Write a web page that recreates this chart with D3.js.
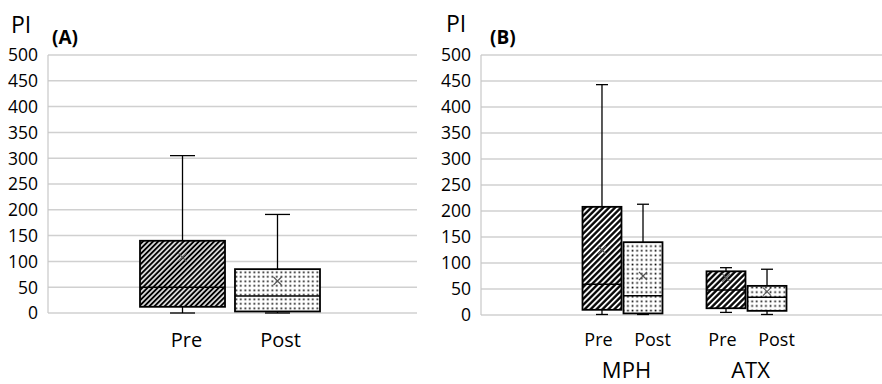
<!DOCTYPE html>
<html>
<head>
<meta charset="utf-8">
<script src="https://cdn.jsdelivr.net/npm/d3@7"></script>
<style>
  body { margin: 0; background: #fff; }
  text { font-family: "Open Sans", "Noto Sans", sans-serif; fill: #000; }
</style>
</head>
<body>
<div id="chart"></div>
<script>
// Panel A: all patients, Pre vs Post
const phases = ['Pre', 'Post'];
const aMin    = [0, 0];
const aQ1     = [12, 3];
const aMedian = [50, 33];
const aQ3     = [140, 85];
const aMax    = [305, 191];
const aMean   = [108, 62];

// Panel B: by drug, [Pre, Post] per group
const groups  = ['MPH', 'ATX'];
const bMin    = [[1, 1], [5, 1]];
const bQ1     = [[10, 3], [13, 8]];
const bMedian = [[59, 37], [48, 34]];
const bQ3     = [[208, 140], [84, 56]];
const bMax    = [[443, 213], [91, 88]];
const bMean   = [[125, 75], [72, 45]];

const yTicks = [0, 50, 100, 150, 200, 250, 300, 350, 400, 450, 500];

const width = 882, height = 384;
const svg = d3.select('#chart').append('svg')
  .attr('width', width)
  .attr('height', height);

// Fill patterns
const defs = svg.append('defs');
function hatch(id, size, sw) {
  const p = defs.append('pattern')
    .attr('id', id)
    .attr('patternUnits', 'userSpaceOnUse')
    .attr('width', size).attr('height', size)
    .attr('patternTransform', 'rotate(45)');
  p.append('rect').attr('width', size).attr('height', size).attr('fill', '#fff');
  p.append('line')
    .attr('x1', size / 2).attr('x2', size / 2)
    .attr('y1', 0).attr('y2', size)
    .attr('stroke', '#000').attr('stroke-width', sw);
}
function dots(id, size) {
  const p = defs.append('pattern')
    .attr('id', id)
    .attr('patternUnits', 'userSpaceOnUse')
    .attr('width', size).attr('height', size);
  p.append('rect').attr('width', size).attr('height', size).attr('fill', '#fff');
  p.append('rect')
    .attr('x', size / 2 - 0.8).attr('y', size / 2 - 0.8)
    .attr('width', 1.7).attr('height', 1.7)
    .attr('fill', '#111');
}
hatch('hatchA', 3.6, 2.1);
hatch('hatchB', 4.2, 2.3);
dots('dotsA', 4.5);
dots('dotsB', 4.6);

// Draws grid + y labels for one panel
function drawFrame(y, x0, x1, labelRight, pi, letter) {
  const g = svg.append('g');
  g.selectAll('line.grid')
    .data(yTicks)
    .join('line')
      .attr('class', 'grid')
      .attr('x1', x0).attr('x2', x1)
      .attr('y1', d => y(d)).attr('y2', d => y(d))
      .attr('stroke', '#d0d0d0')
      .attr('stroke-width', 1.5);
  g.append('line')
    .attr('x1', x0).attr('x2', x0)
    .attr('y1', y(500)).attr('y2', y(0))
    .attr('stroke', '#c8c8c8').attr('stroke-width', 1.2);
  g.selectAll('text.tick')
    .data(yTicks)
    .join('text')
      .attr('class', 'tick')
      .attr('x', labelRight)
      .attr('y', d => y(d))
      .attr('dy', '0.36em')
      .attr('text-anchor', 'end')
      .style('font-size', '17.5px')
      .text(d => d);
  g.append('text')
    .attr('x', pi.x).attr('y', pi.y)
    .style('font-size', '23px')
    .text('PI');
  g.append('text')
    .attr('x', letter.x).attr('y', letter.y)
    .style('font-size', '19px')
    .style('font-weight', 'bold')
    .text(letter.t);
}

// One box-and-whisker
function drawBox(g, y, cx, bw, capW, s, pattern) {
  g.append('line')
    .attr('x1', cx).attr('x2', cx)
    .attr('y1', y(s.max)).attr('y2', y(s.q3))
    .attr('stroke', '#000').attr('stroke-width', 1.3);
  g.append('line')
    .attr('x1', cx).attr('x2', cx)
    .attr('y1', y(s.q1)).attr('y2', y(s.min))
    .attr('stroke', '#000').attr('stroke-width', 1.3);
  [s.max, s.min].forEach(v => {
    g.append('line')
      .attr('x1', cx - capW / 2).attr('x2', cx + capW / 2)
      .attr('y1', y(v)).attr('y2', y(v))
      .attr('stroke', '#000').attr('stroke-width', 1.3);
  });
  g.append('rect')
    .attr('x', cx - bw / 2)
    .attr('y', y(s.q3))
    .attr('width', bw)
    .attr('height', y(s.q1) - y(s.q3))
    .attr('fill', `url(#${pattern})`)
    .attr('stroke', '#000')
    .attr('stroke-width', 1.8);
  g.append('line')
    .attr('x1', cx - bw / 2).attr('x2', cx + bw / 2)
    .attr('y1', y(s.median)).attr('y2', y(s.median))
    .attr('stroke', '#000').attr('stroke-width', 1.5);
  const m = 4, my = y(s.mean);
  g.append('path')
    .attr('d', `M${cx - m},${my - m}L${cx + m},${my + m}M${cx - m},${my + m}L${cx + m},${my - m}`)
    .attr('stroke', '#555').attr('stroke-width', 1.1);
}

// ---- Panel A ----
const yA = d3.scaleLinear().domain([0, 500]).range([313, 55]);
drawFrame(yA, 48, 417, 38, {x: 11, y: 33}, {x: 52, y: 44, t: '(A)'});
const xA = d3.scaleBand().domain(phases).range([140, 320]).paddingInner(0.105);
const gA = svg.append('g');
phases.forEach((p, i) => {
  drawBox(gA, yA, xA(p) + xA.bandwidth() / 2, xA.bandwidth(), 25,
    {min: aMin[i], q1: aQ1[i], median: aMedian[i], q3: aQ3[i], max: aMax[i], mean: aMean[i]},
    i === 0 ? 'hatchA' : 'dotsA');
});
gA.selectAll('text.cat')
  .data(phases)
  .join('text')
    .attr('class', 'cat')
    .attr('x', (d, i) => xA(d) + xA.bandwidth() / 2 + (i === 0 ? 4 : 3))
    .attr('y', 347)
    .attr('text-anchor', 'middle')
    .style('font-size', '20px')
    .text(d => d);

// ---- Panel B ----
const yB = d3.scaleLinear().domain([0, 500]).range([315, 55]);
drawFrame(yB, 481, 890, 471, {x: 446, y: 32}, {x: 490, y: 44, t: '(B)'});
const xB = d3.scaleBand().domain(groups).range([582.5, 786.5]).paddingInner(0.355);
const xSub = d3.scaleBand().domain(phases).range([0, xB.bandwidth()]).paddingInner(0.05);
const gB = svg.append('g');
groups.forEach((grp, gi) => {
  phases.forEach((p, pi) => {
    drawBox(gB, yB, xB(grp) + xSub(p) + xSub.bandwidth() / 2, xSub.bandwidth(), 12,
      {min: bMin[gi][pi], q1: bQ1[gi][pi], median: bMedian[gi][pi], q3: bQ3[gi][pi],
       max: bMax[gi][pi], mean: bMean[gi][pi]},
      pi === 0 ? 'hatchB' : 'dotsB');
  });
  const gc = xB(grp) + xB.bandwidth() / 2;
  phases.forEach((p, pi) => {
    gB.append('text')
      .attr('x', gc + 3 + (pi === 0 ? -27 : 27))
      .attr('y', 346)
      .attr('text-anchor', 'middle')
      .style('font-size', '18px')
      .text(p);
  });
  gB.append('text')
    .attr('x', gc + 4)
    .attr('y', 378)
    .attr('text-anchor', 'middle')
    .style('font-size', '22px')
    .text(grp);
});
</script>
</body>
</html>
